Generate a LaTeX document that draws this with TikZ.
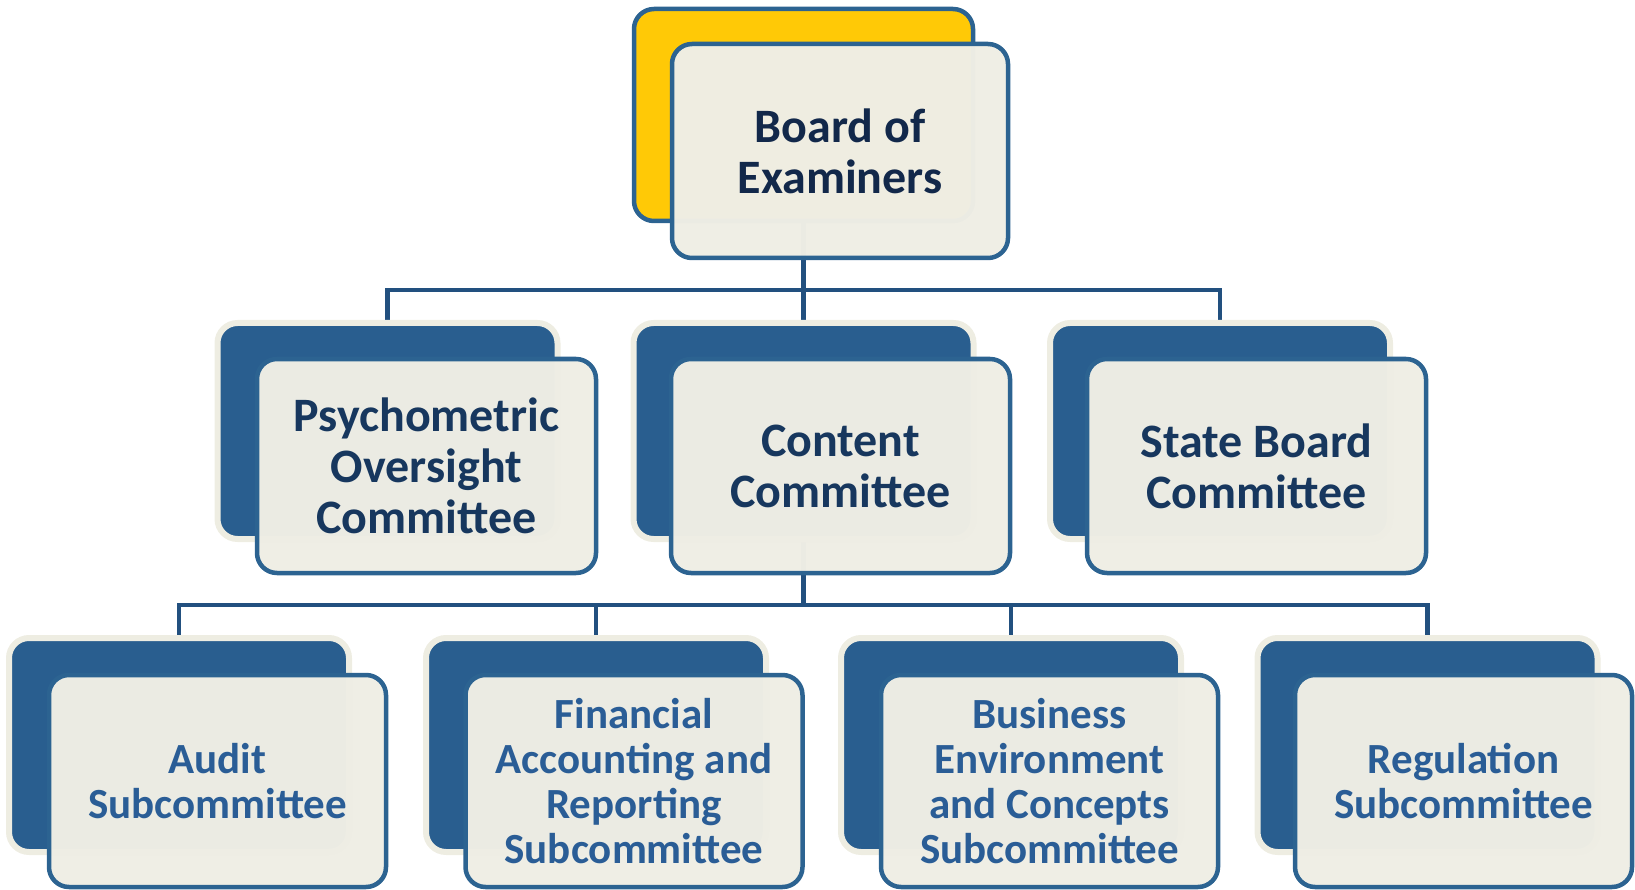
\documentclass[tikz,border=0pt]{standalone}
\usepackage{fontspec}
\setmainfont{Carlito}
\pgfdeclarelayer{bg}
\pgfsetlayers{bg,main}
\definecolor{gold}{HTML}{FFC906}
\definecolor{boxblue}{HTML}{295E8F}
\definecolor{strokeblue}{HTML}{2C6391}
\definecolor{cream}{HTML}{EFEEE5}
\definecolor{halo}{HTML}{EEEDE2}
\definecolor{connblue}{HTML}{22507F}
\definecolor{topnavy}{HTML}{12284A}
\definecolor{midnavy}{HTML}{17375E}
\definecolor{lowblue}{HTML}{2A5D96}
\begin{document}
\begin{tikzpicture}[x=1pt,y=-1pt,
  goldbox/.style={rectangle, rounded corners=20pt, fill=gold, draw=strokeblue, line width=4.5pt, inner sep=0pt, minimum width=339pt, minimum height=212pt},
  backbox/.style={rectangle, rounded corners=20pt, fill=boxblue, draw=halo, line width=6pt, inner sep=0pt, minimum width=340pt, minimum height=216pt},
  frontbox/.style={rectangle, rounded corners=20pt, fill=cream, fill opacity=0.985, text opacity=1, draw=strokeblue, line width=4.5pt, inner sep=0pt, minimum width=339pt, minimum height=214pt, align=center},
  toptext/.style={text=topnavy, font=\fontsize{48}{51}\selectfont\bfseries},
  midtext/.style={text=midnavy, font=\fontsize{48}{51}\selectfont\bfseries},
  lowtext/.style={text=lowblue, font=\fontsize{43}{45}\selectfont\bfseries, minimum width=337pt, minimum height=212pt},
  conn/.style={draw=connblue, line width=4.5pt}
]
\useasboundingbox (0,0) rectangle (1635,890);

% top
\node[goldbox] (boardb) at (803.5,115) {};
\node[frontbox, toptext, minimum width=336pt] (board) at (840,151) {Board of\\Examiners};

% level 2
\node[backbox] (psychb) at (387.5,431) {};
\node[frontbox, midtext] (psych) at (426.5,466) {Psychometric\\Oversight\\Committee};
\node[backbox] (contentb) at (803.5,431) {};
\node[frontbox, midtext] (content) at (840.5,466) {Content\\Committee};
\node[backbox] (stateb) at (1220,431) {};
\node[frontbox, midtext] (state) at (1256.5,466) {State Board\\Committee};

% level 3
\node[backbox, minimum height=214pt] (auditb) at (179,745) {};
\node[frontbox, lowtext] (audit) at (217.5,781) {Audit\\Subcommittee};
\node[backbox, minimum height=214pt] (farb) at (596,745) {};
\node[frontbox, lowtext] (far) at (634,781) {Financial\\Accounting and\\Reporting\\Subcommittee};
\node[backbox, minimum height=214pt] (becb) at (1011,745) {};
\node[frontbox, lowtext] (bec) at (1049.5,781) {Business\\Environment\\and Concepts\\Subcommittee};
\node[backbox, minimum height=214pt] (regb) at (1427.5,745) {};
\node[frontbox, lowtext] (reg) at (1463.5,781) {Regulation\\Subcommittee};

\coordinate (bus1) at (803.5,290);
\coordinate (bus2) at (803.5,605);

\begin{pgfonlayer}{bg}
\draw[conn] (boardb.center) -- (bus1);
\draw[conn] (psychb.center) |- (bus1);
\draw[conn] (stateb.center) |- (bus1);
\draw[conn] (contentb.center) -- (bus1);
\draw[conn] (contentb.center) -- (bus2);
\draw[conn] (auditb.center) |- (bus2);
\draw[conn] (farb.center) |- (bus2);
\draw[conn] (becb.center) |- (bus2);
\draw[conn] (regb.center) |- (bus2);
\end{pgfonlayer}
\end{tikzpicture}
\end{document}
